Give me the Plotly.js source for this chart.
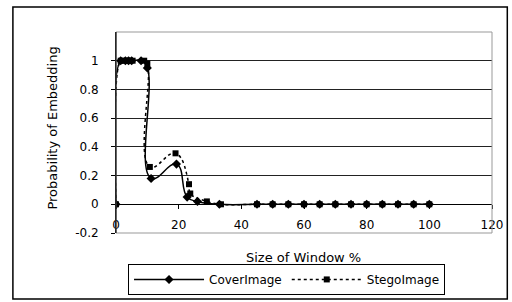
<!DOCTYPE html>
<html>
<head>
<meta charset="utf-8">
<script src="https://cdn.plot.ly/plotly-3.0.1.min.js"></script>
<style>html,body{margin:0;padding:0;background:#fff;}#chart{width:512px;height:302px;}</style>
</head>
<body>
<div id="chart"></div>
<script>
const seriesNames = ["CoverImage", "StegoImage"];
const coverX = [0, 1.5, 3, 4, 5, 8, 10, 11.2, 19.3, 22.7, 26, 33, 45, 50, 55, 60, 65, 70, 75, 80, 85, 90, 95, 100];
const coverY = [0, 1, 1, 1, 1, 1, 0.95, 0.18, 0.28, 0.05, 0.02, 0, 0, 0, 0, 0, 0, 0, 0, 0, 0, 0, 0, 0];
const stegoX = [0, 1.5, 2.5, 3.5, 4.5, 5.3, 9, 10, 10.8, 19, 23.3, 23.7, 29, 33.5, 45, 50, 55, 60, 65, 70, 75, 80, 85, 90, 95, 100];
const stegoY = [0, 1, 1, 1, 1, 1, 1, 0.98, 0.26, 0.355, 0.14, 0.075, 0.02, 0, 0, 0, 0, 0, 0, 0, 0, 0, 0, 0, 0, 0];
const xTicks = [0, 20, 40, 60, 80, 100, 120];
const yTicks = [-0.2, 0, 0.2, 0.4, 0.6, 0.8, 1];
const yTickText = ["-0.2", "0", "0.2", "0.4", "0.6", "0.8", "1"];

const FONT = "DejaVu Sans, Arial, sans-serif";

const traces = [
  {
    x: coverX, y: coverY, name: seriesNames[0], type: "scatter", mode: "lines+markers",
    line: {color: "#000", width: 1.5, shape: "spline", smoothing: 1.3},
    marker: {symbol: "diamond", size: 7, color: "#000"}
  },
  {
    x: stegoX, y: stegoY, name: seriesNames[1], type: "scatter", mode: "lines+markers",
    line: {color: "#000", width: 1.5, dash: "dot", shape: "spline", smoothing: 1.3},
    marker: {symbol: "square", size: 6, color: "#000"}
  }
];

const layout = {
  width: 512, height: 302,
  margin: {l: 116, r: 20, t: 32, b: 69, autoexpand: false},
  paper_bgcolor: "#fff", plot_bgcolor: "#fff",
  font: {family: FONT, size: 12, color: "#000"},
  showlegend: true,
  legend: {
    orientation: "h", x: 0.032, y: -0.231, xanchor: "left", yanchor: "middle",
    bordercolor: "#000", borderwidth: 1, bgcolor: "#fff",
    font: {family: FONT, size: 12, color: "#000"},
    itemwidth: 70, tracegroupgap: 0
  },
  xaxis: {
    range: [0, 120], tickvals: xTicks, ticktext: xTicks.map(String),
    showgrid: false, zeroline: false,
    showline: true, linecolor: "#000", linewidth: 1,
    ticks: "outside", ticklen: 4, tickcolor: "#000",
    anchor: "free", position: 0.1443,
    ticklabelstandoff: 6,
    tickfont: {family: FONT, size: 12, color: "#000"}
  },
  yaxis: {
    range: [-0.2, 1.2], tickvals: yTicks, ticktext: yTickText,
    showgrid: true, gridcolor: "#222", gridwidth: 1,
    zeroline: false,
    showline: true, linecolor: "#000", linewidth: 1,
    ticks: "outside", ticklen: 4, tickcolor: "#000",
    ticklabelstandoff: 10,
    tickfont: {family: FONT, size: 12, color: "#000"}
  },
  shapes: [
    {type: "rect", xref: "paper", yref: "paper", x0: 0, x1: 1, y0: 0, y1: 1,
     line: {color: "#999", width: 1}, layer: "above"},
    {type: "line", xref: "paper", yref: "paper", x0: 0, x1: 0, y0: 0, y1: 1,
     line: {color: "#000", width: 1}, layer: "above"},
    {type: "rect", xref: "paper", yref: "paper", x0: -0.2742, x1: 1.0407, y0: -0.3284, y1: 1.1244,
     line: {color: "#000", width: 1.5}, layer: "below"}
  ],
  annotations: [
    {text: "Size of Window %", xref: "paper", yref: "paper", x: 0.498, y: -0.124,
     xanchor: "center", yanchor: "middle", showarrow: false,
     font: {family: FONT, size: 13, color: "#000"}},
    {text: "Probability of Embedding", xref: "paper", yref: "paper", x: -0.17, y: 0.52,
     xanchor: "center", yanchor: "middle", showarrow: false, textangle: -90,
     font: {family: FONT, size: 13, color: "#000"}}
  ]
};

Plotly.newPlot("chart", traces, layout, {displayModeBar: false, staticPlot: true});
</script>
</body>
</html>
